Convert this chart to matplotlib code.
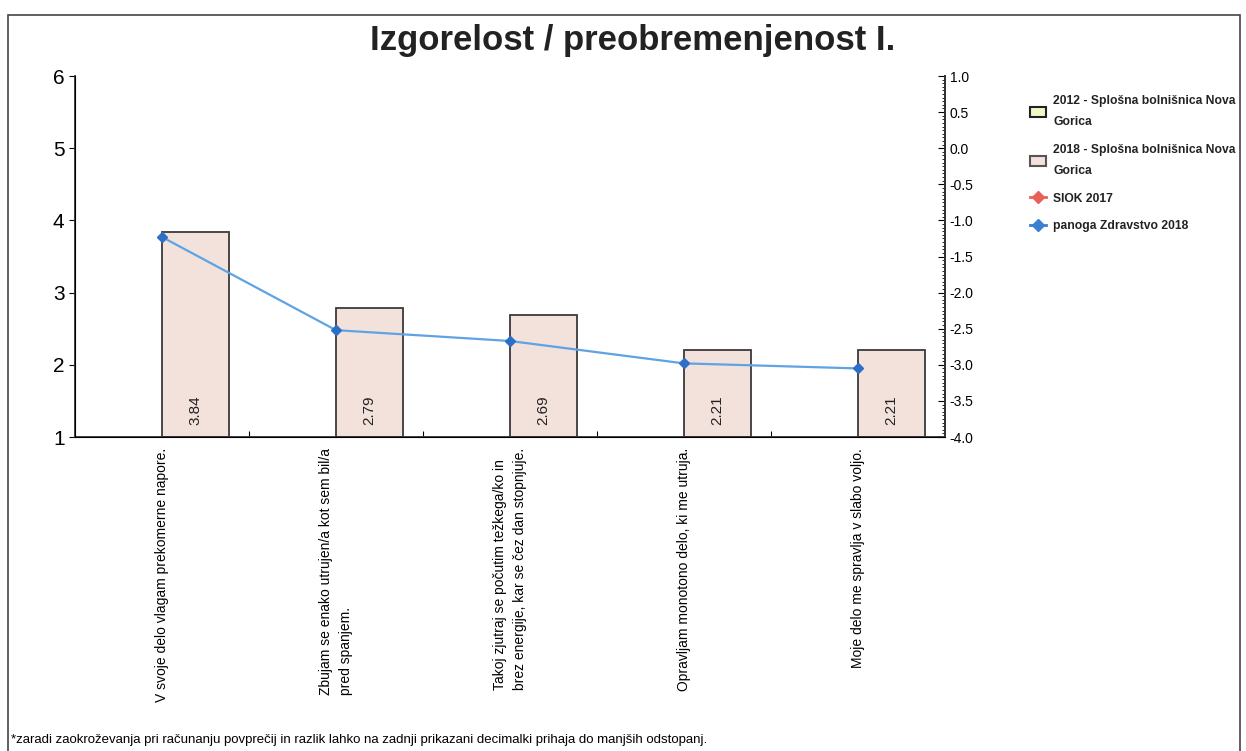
import matplotlib.pyplot as plt
from matplotlib.lines import Line2D
from matplotlib.patches import Patch, Rectangle
from matplotlib.ticker import MultipleLocator

plt.rcParams["font.family"] = ["Liberation Sans", "DejaVu Sans"]

# data
categories = [
    "V svoje delo vlagam prekomerne napore.",
    "Zbujam se enako utrujen/a kot sem bil/a\npred spanjem.",
    "Takoj zjutraj se počutim težkega/ko in\nbrez energije, kar se čez dan stopnjuje.",
    "Opravljam monotono delo, ki me utruja.",
    "Moje delo me spravlja v slabo voljo.",
]
bar_2018 = [3.84, 2.79, 2.69, 2.21, 2.21]
bar_labels = ["3.84", "2.79", "2.69", "2.21", "2.21"]
panoga_2018 = [3.77, 2.48, 2.33, 2.02, 1.95]

bar_color = "#f3e1dc"
line_color = "#5fa3e3"
marker_color = "#2c6fc4"

fig = plt.figure(figsize=(12.46, 7.51), dpi=100)
ax = fig.add_axes([0.0602, 0.4181, 0.698, 0.4807])

x = list(range(len(categories)))
ax.bar(x, [v - 1 for v in bar_2018], bottom=1, width=0.385, align="edge",
       color=bar_color, edgecolor="#3a3a3a", linewidth=1.3, zorder=2)
for xi, v, lab in zip(x, bar_2018, bar_labels):
    ax.text(xi + 0.19, 1.37, lab, rotation=90, ha="center", va="center",
            fontsize=11, color="#222222", zorder=4)

ax.plot(x, panoga_2018, color=line_color, linewidth=1.6, marker="D",
        markersize=5, markerfacecolor=marker_color, markeredgecolor=marker_color, zorder=5)

ax.set_xlim(-0.5, 4.5)
ax.set_ylim(1, 6)
ax.yaxis.set_major_locator(MultipleLocator(1))
ax.tick_params(axis="y", labelsize=15, length=4, direction="out")
ax.set_xticks([i + 0.5 for i in range(4)])
ax.set_xticklabels([])
ax.tick_params(axis="x", length=4, direction="in")
for i, lab in enumerate(categories):
    ax.text(i, -0.03, lab, rotation=90, ha="center", va="top", fontsize=10,
            transform=ax.get_xaxis_transform(), multialignment="left", linespacing=1.5)
ax.spines["top"].set_visible(False)
for s in ["left", "bottom", "right"]:
    ax.spines[s].set_color("#333333")
    ax.spines[s].set_linewidth(1.3)

ax2 = ax.twinx()
ax2.set_ylim(-4, 1)
ax2.yaxis.set_major_locator(MultipleLocator(0.5))
ax2.yaxis.set_minor_locator(MultipleLocator(0.05))
ax2.tick_params(axis="y", which="major", labelsize=10, length=5, direction="in")
ax2.tick_params(axis="y", which="minor", length=2.5, direction="in")
ax2.yaxis.set_major_formatter(plt.FuncFormatter(lambda v, p: f"{v:.1f}"))
ax2.spines["top"].set_visible(False)
ax2.spines["right"].set_color("#333333")
ax2.spines["right"].set_linewidth(1.3)

handles = [
    Patch(facecolor="#f4f6c8", edgecolor="#222222", linewidth=1.5),
    Patch(facecolor=bar_color, edgecolor="#555555", linewidth=1.5),
    Line2D([], [], color="#e8605a", marker="D", markersize=6, linewidth=2),
    Line2D([], [], color="#3a7fd0", marker="D", markersize=6, linewidth=2),
]
labels = [
    "2012 - Splošna bolnišnica Nova\nGorica",
    "2018 - Splošna bolnišnica Nova\nGorica",
    "SIOK 2017",
    "panoga Zdravstvo 2018",
]
leg = fig.legend(handles, labels, loc="upper left", bbox_to_anchor=(0.818, 0.888),
                 frameon=False, prop={"size": 8.7, "weight": "bold"},
                 handlelength=1.3, handleheight=0.9, handletextpad=0.6, labelspacing=1.3)
for t in leg.get_texts():
    t.set_linespacing(2.0)
    t.set_color("#222222")

fig.text(0.508, 0.946, "Izgorelost / preobremenjenost I.", ha="center", va="center",
         fontsize=25, fontweight="bold", color="#222222")

fig.text(0.009, 0.006, "*zaradi zaokroževanja pri računanju povprečij in razlik lahko na zadnji prikazani "
         "decimalki prihaja do manjših odstopanj.", ha="left", va="bottom", fontsize=9.5)

fig.add_artist(Rectangle((0.0065, -0.01), 0.989, 0.99, transform=fig.transFigure,
                         fill=False, edgecolor="#444444", linewidth=1.2))

fig.savefig("out.png", dpi=100)
